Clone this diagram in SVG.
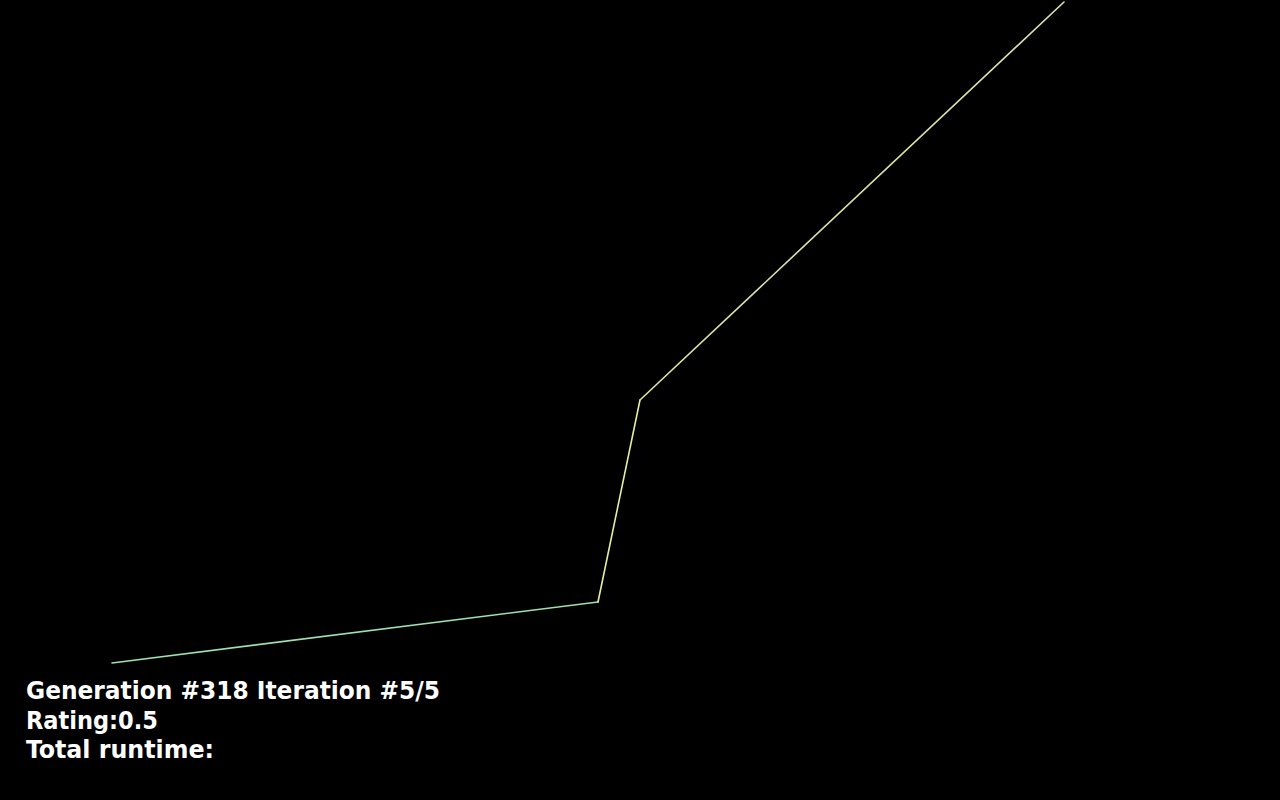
<svg xmlns="http://www.w3.org/2000/svg" width="1280" height="800" viewBox="0 0 1280 800">
<style>
.seg{fill:none;stroke-width:1.6;stroke-linecap:round}
.lbl{font-family:"DejaVu Sans","Liberation Sans",sans-serif;font-weight:bold;font-size:25px;fill:#ffffff;font-stretch:condensed}
</style>
<rect width="1280" height="800" fill="#000000"/>
<g id="connectors">
<line class="seg" x1="112" y1="663" x2="598" y2="602" stroke="#9ee0b0"/>
<line class="seg" x1="598" y1="602" x2="640" y2="400" stroke="#e0f0a0"/>
<line class="seg" x1="640" y1="400" x2="1064" y2="2" stroke="#dce4a4"/>
</g>
<g id="status">
<text class="lbl" x="26" y="699" textLength="414" lengthAdjust="spacingAndGlyphs">Generation #318 Iteration #5/5</text>
<text class="lbl" x="26" y="729" textLength="132" lengthAdjust="spacingAndGlyphs">Rating:0.5</text>
<text class="lbl" x="26" y="758" textLength="188" lengthAdjust="spacingAndGlyphs">Total runtime:</text>
</g>
</svg>
